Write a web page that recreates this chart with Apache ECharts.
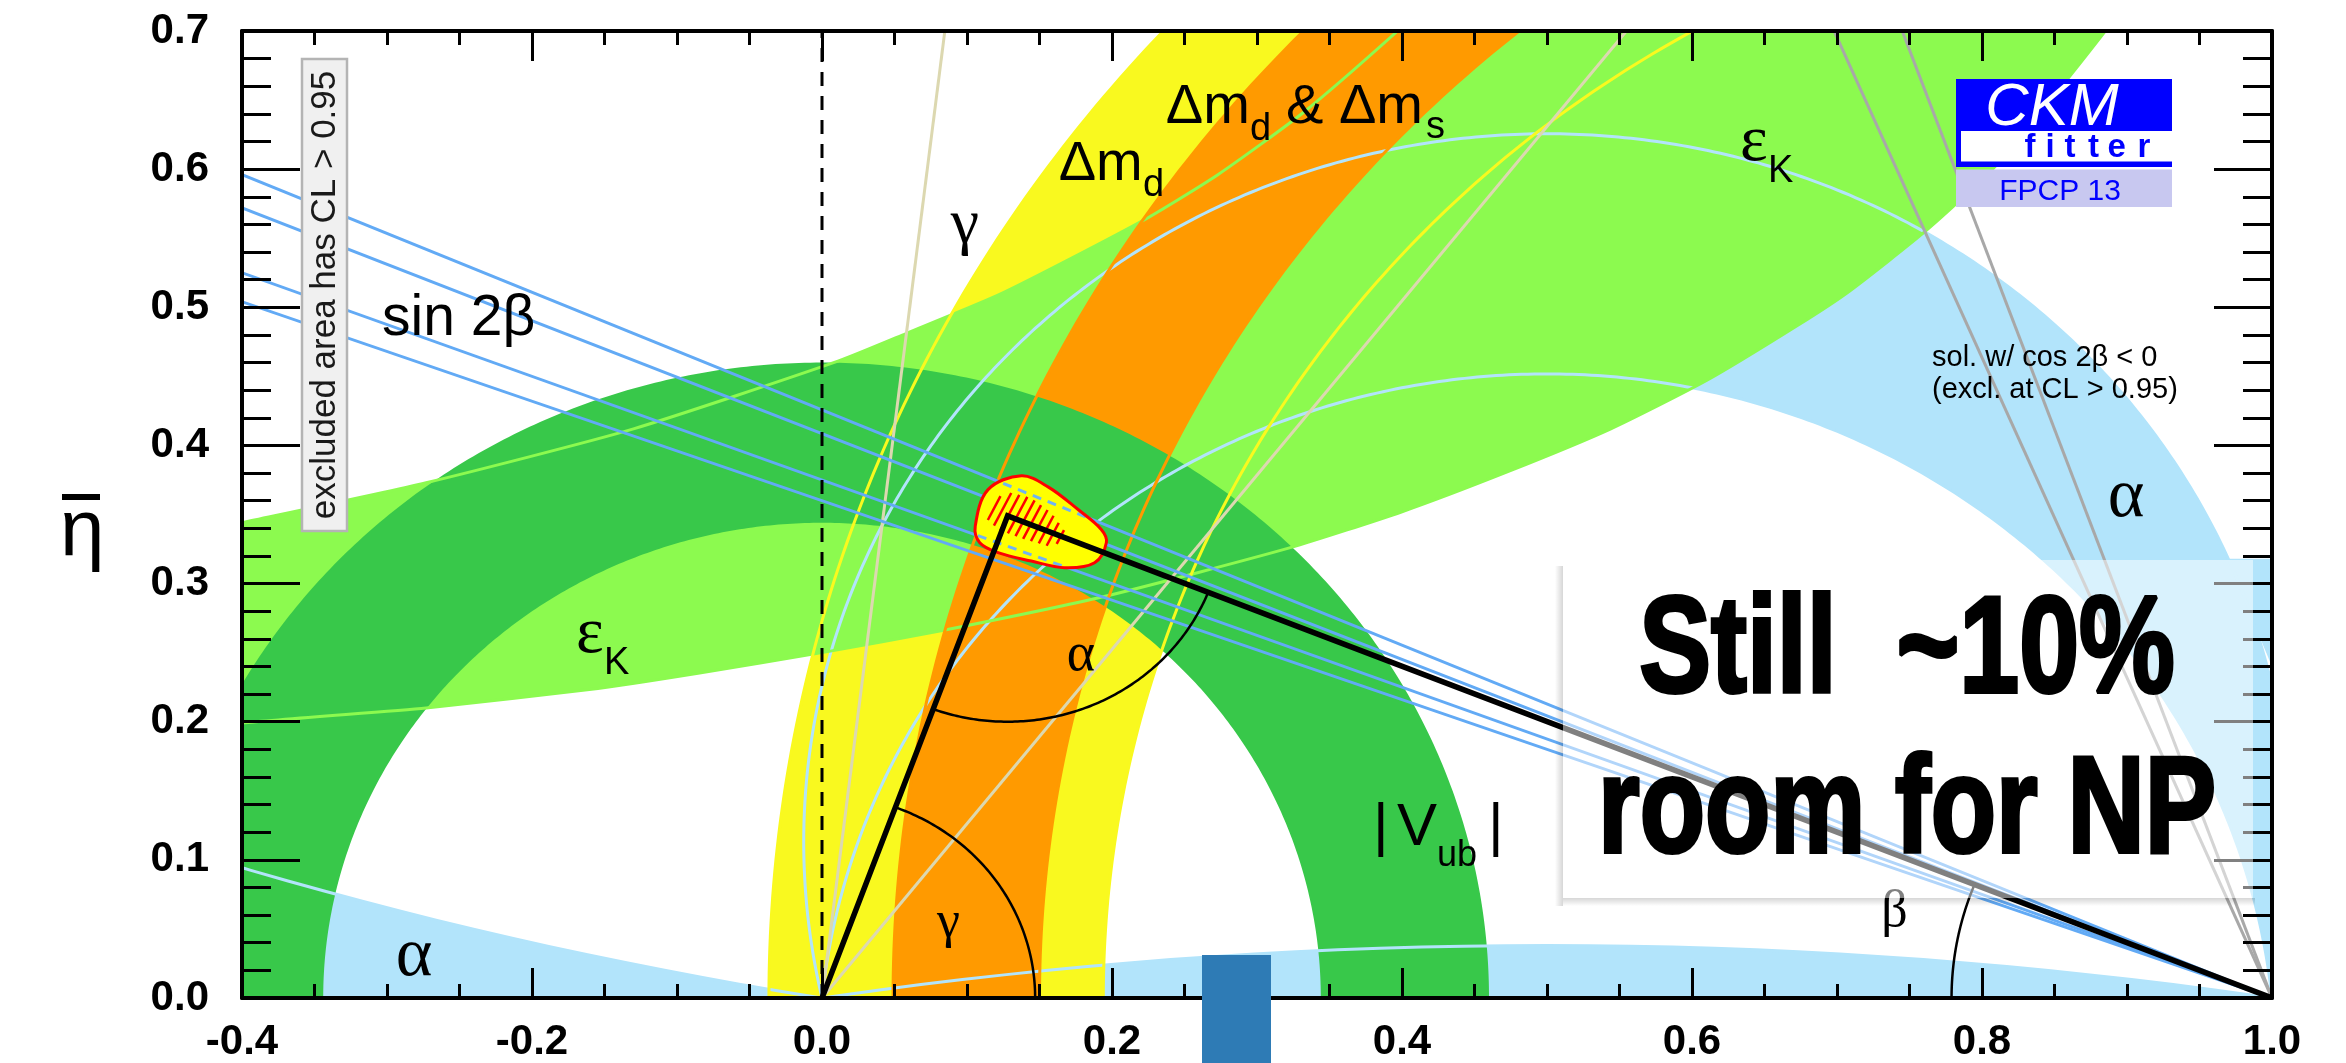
<!DOCTYPE html>
<html>
<head>
<meta charset="utf-8">
<title>CKMfitter – ρ̄, η̄ plane</title>
<script src="https://cdn.jsdelivr.net/npm/echarts@6/dist/echarts.min.js"></script>
<style>
  html, body { margin: 0; padding: 0; background: #ffffff; }
  #chart { width: 2346px; height: 1063px; }
</style>
</head>
<body>
<div id="chart"></div>
<script>
// ---------------- axis ticks ----------------
const rhoTicks = [-0.4, -0.2, 0.0, 0.2, 0.4, 0.6, 0.8, 1.0];
const etaTicks = [0.0, 0.1, 0.2, 0.3, 0.4, 0.5, 0.6, 0.7];

// ---------------- constraints (95% CL regions) ----------------
// |Vub|: annulus around (0,0), inner / outer radius
const vubRadii = [0.344, 0.46];
// Δm_d: annulus around (1,0)
const dmdCenter = [1.0, 0.0];
const dmdRadii = [0.806, 1.0366];
// Δm_d & Δm_s
const dmsCenter = [1.056, 0.0];
const dmsRadii = [0.906, 1.007];
// α: circles through (0,0) and (1,0); η̄ of their centres (ρ̄ = 0.5)
const alphaBandCy = [0.113, -0.0508];   // edges of the α ≈ 90° band
const alphaLowCy = [3.016, -3.27];      // edges of the α ≈ 0° / 180° slivers
// α region along the ρ̄ = 1 edge
const alphaEdge = [[0.969, 0.318], [1.0, 0.318], [1.0, 0.24]];
// ε_K band edges (ρ̄, η̄)
const epsKUpper = [[-0.45, 0.333], [-0.4, 0.344], [-0.273, 0.373], [-0.13, 0.412], [0.011, 0.461],
  [0.058, 0.481], [0.124, 0.51], [0.22, 0.562], [0.273, 0.596], [0.332, 0.641], [0.397, 0.70], [0.448, 0.75]];
const epsKLower = [[-0.45, 0.19], [-0.4, 0.199], [-0.273, 0.21], [-0.1545, 0.224], [-0.0855, 0.235],
  [0.0, 0.25], [0.083, 0.266], [0.196, 0.291], [0.323, 0.326], [0.40, 0.352], [0.473, 0.381],
  [0.544, 0.412], [0.61, 0.447], [0.673, 0.487], [0.709, 0.512], [0.762, 0.556], [0.811, 0.604],
  [0.885, 0.70], [0.918, 0.75]];
// sin 2β: lines through (1,0); η̄ where they cross ρ̄ = -0.4
const sin2bAtLeft = [0.596, 0.572, 0.525, 0.504];
// γ: lines through (0,0), angle in degrees
const gammaDeg = [51.6, 83.1];
// cos 2β < 0 solution: lines through (1,0); ρ̄ where they reach η̄ = 0.7
const cos2bNegTop = [0.698, 0.745];
// global fit
const apex = [0.128, 0.349];
const fitOuter = [[0.1057, 0.3416], [0.1145, 0.368], [0.1375, 0.378], [0.1559, 0.370], [0.1766, 0.3536],
  [0.1926, 0.3392], [0.1961, 0.3296], [0.188, 0.3151], [0.1674, 0.3115], [0.1443, 0.3163],
  [0.1214, 0.3224], [0.1088, 0.3296]];
const fitInner = [[0.1133, 0.3536], [0.1191, 0.362], [0.1306, 0.3656], [0.1444, 0.362], [0.1582, 0.3512],
  [0.1674, 0.338], [0.1651, 0.3296], [0.1559, 0.3271], [0.1398, 0.332], [0.1237, 0.338], [0.1145, 0.3452]];
// radii of the angle markers at the apex (α), at (1,0) (β) and at (0,0) (γ)
const angleArcRadii = [0.149, 0.221, 0.147];

// ---------------- helpers ----------------
const SANS = "'Liberation Sans', Arial, Helvetica, sans-serif";
const SERIF = "'Liberation Serif', 'Times New Roman', serif";

function arc(cx, cy, r, a0, a1, n) {
  const pts = [];
  for (let i = 0; i <= n; i++) {
    const a = a0 + (a1 - a0) * i / n;
    pts.push([cx + r * Math.cos(a), cy + r * Math.sin(a)]);
  }
  return pts;
}
function circle(c, r) { return arc(c[0], c[1], r, 0, 2 * Math.PI, 720); }
function annulus(c, radii) {
  return arc(c[0], c[1], radii[1], 0, 2 * Math.PI, 720)
    .concat(arc(c[0], c[1], radii[0], 2 * Math.PI, 0, 720));
}
// upper arc of the circle through (0,0) and (1,0) whose centre is (0.5, cy)
function alphaArc(cy, reverse) {
  const r = Math.hypot(0.5, cy);
  let a0 = Math.atan2(-cy, -0.5);
  const a1 = Math.atan2(-cy, 0.5);
  if (a0 < a1) a0 += 2 * Math.PI;
  return reverse ? arc(0.5, cy, r, a1, a0, 500) : arc(0.5, cy, r, a0, a1, 500);
}
function alphaCircle(cy) { return circle([0.5, cy], Math.hypot(0.5, cy)); }

function insidePoly(p, poly) {
  let c = false;
  for (let i = 0, j = poly.length - 1; i < poly.length; j = i++) {
    const a = poly[i], b = poly[j];
    if (((a[1] > p[1]) !== (b[1] > p[1])) &&
        (p[0] < (b[0] - a[0]) * (p[1] - a[1]) / (b[1] - a[1]) + a[0])) c = !c;
  }
  return c;
}
// pieces of segment a-b that lie inside poly
function segsInside(a, b, poly) {
  const ts = [0, 1];
  const r = [b[0] - a[0], b[1] - a[1]];
  for (let i = 0; i < poly.length; i++) {
    const c = poly[i], d = poly[(i + 1) % poly.length];
    const s = [d[0] - c[0], d[1] - c[1]];
    const den = r[0] * s[1] - r[1] * s[0];
    if (Math.abs(den) < 1e-12) continue;
    const t = ((c[0] - a[0]) * s[1] - (c[1] - a[1]) * s[0]) / den;
    const u = ((c[0] - a[0]) * r[1] - (c[1] - a[1]) * r[0]) / den;
    if (t > 0 && t < 1 && u >= 0 && u <= 1) ts.push(t);
  }
  ts.sort((x, y) => x - y);
  const at = t => [a[0] + t * r[0], a[1] + t * r[1]];
  const out = [];
  for (let i = 0; i < ts.length - 1; i++) {
    if (ts[i + 1] - ts[i] < 1e-9) continue;
    if (insidePoly(at((ts[i] + ts[i + 1]) / 2), poly)) out.push([at(ts[i]), at(ts[i + 1])]);
  }
  return out;
}

function layer(z, draw) {
  return {
    type: 'custom', coordinateSystem: 'cartesian2d', xAxisIndex: 0, yAxisIndex: 0,
    data: [[0, 0]], clip: true, silent: true, z: z, animation: false,
    renderItem: function (params, api) {
      const px = pts => pts.map(p => api.coord(p));
      return { type: 'group', children: draw(px, api) };
    }
  };
}
const fillPoly = (pts, color) => ({ type: 'polygon', shape: { points: pts }, style: { fill: color, stroke: 'none' } });
const stroke = (pts, color, w, dash) => ({
  type: 'polyline', shape: { points: pts },
  style: { fill: 'none', stroke: color, lineWidth: w, lineDash: dash || null, lineJoin: 'round' }
});
const seg = (s, color, w, dash) => ({
  type: 'line', shape: { x1: s[0][0], y1: s[0][1], x2: s[1][0], y2: s[1][1] },
  style: { stroke: color, lineWidth: w, lineDash: dash || null }
});

const C_ALPHA = '#b2e4fb', C_DMD = '#f9f91f', C_EPS = '#8cfa4f', C_DMS = '#ff9a00', C_VUB = '#38c84a';
const C_GAMMA = '#dcd8b0', C_S2B = '#62aaf5', C_GREY = '#a8a8a8';

// ---------------- series ----------------
const series = [
  // α (light blue)
  layer(2, px => {
    const cC = alphaLowCy[0], rC = Math.hypot(0.5, cC);
    const a0 = Math.atan2(-cC, -0.5);
    const left = arc(0.5, cC, rC, a0, a0 - 0.5, 300);
    left.push([left[left.length - 1][0], 0]);
    return [
      fillPoly(px(alphaArc(alphaBandCy[0], false).concat(alphaArc(alphaBandCy[1], true))), C_ALPHA),
      fillPoly(px(alphaArc(alphaLowCy[1], false)), C_ALPHA),
      fillPoly(px(left), C_ALPHA),
      fillPoly(px(alphaEdge), C_ALPHA)
    ];
  }),
  // Δm_d (yellow)
  layer(3, px => [fillPoly(px(annulus(dmdCenter, dmdRadii)), C_DMD)]),
  // ε_K (light green)
  layer(4, px => [{ type: 'polygon', shape: { points: px(epsKUpper.concat(epsKLower.slice().reverse())), smooth: 0.2 },
    style: { fill: C_EPS, stroke: 'none' } }]),
  // Δm_d & Δm_s (orange)
  layer(5, px => [fillPoly(px(annulus(dmsCenter, dmsRadii)), C_DMS)]),
  // |Vub| (dark green)
  layer(6, px => [fillPoly(px(annulus([0, 0], vubRadii)), C_VUB)]),
  // contour lines of every constraint
  layer(7, (px, api) => {
    const k = [];
    alphaBandCy.concat(alphaLowCy).forEach(cy => k.push(stroke(px(alphaCircle(cy)), C_ALPHA, 3)));
    k.push({ type: 'polyline', shape: { points: px(epsKUpper), smooth: 0.2 }, style: { fill: 'none', stroke: C_EPS, lineWidth: 3 } });
    k.push({ type: 'polyline', shape: { points: px(epsKLower), smooth: 0.2 }, style: { fill: 'none', stroke: C_EPS, lineWidth: 3 } });
    dmdRadii.forEach(r => k.push(stroke(px(circle(dmdCenter, r)), C_DMD, 3)));
    dmsRadii.forEach(r => k.push(stroke(px(circle(dmsCenter, r)), C_DMS, 3)));
    gammaDeg.forEach(g => {
      const t = g * Math.PI / 180;
      k.push(stroke(px([[0, 0], [0.8 / Math.tan(t), 0.8]]), C_GAMMA, 3));
    });
    cos2bNegTop.forEach(x => {
      const s = 0.7 / (1 - x);
      k.push(stroke(px([[1, 0], [1 - 0.8 / s, 0.8]]), C_GREY, 3));
    });
    sin2bAtLeft.forEach(e => k.push(stroke(px([[-0.45, e * 1.45 / 1.4], [1, 0]]), C_S2B, 3)));
    k.push(stroke(px([[0, 0], [0, 0.7]]), '#000', 3, [14, 10]));
    return k;
  }),
  // global fit region
  layer(8, (px, api) => {
    const outer = px(fitOuter), inner = px(fitInner);
    const k = [{ type: 'polygon', shape: { points: outer, smooth: 0.35 }, style: { fill: '#ffff00', stroke: 'none' } }];
    const ang = 62 * Math.PI / 180, dx = Math.cos(ang), dy = -Math.sin(ang), nx = -dy, ny = dx;
    const cx = inner.reduce((s, p) => s + p[0], 0) / inner.length;
    const cy = inner.reduce((s, p) => s + p[1], 0) / inner.length;
    for (let i = -14; i <= 14; i++) {
      const ox = cx + nx * i * 8, oy = cy + ny * i * 8;
      segsInside([ox - dx * 150, oy - dy * 150], [ox + dx * 150, oy + dy * 150], inner)
        .forEach(s => k.push(seg(s, '#ff0000', 2.5)));
    }
    [0, 2].forEach(i => {
      segsInside(api.coord([-0.4, sin2bAtLeft[i]]), api.coord([1, 0]), outer)
        .forEach(s => k.push(seg(s, '#70b4f2', 3, [9, 7])));
    });
    k.push({ type: 'polygon', shape: { points: outer, smooth: 0.35 }, style: { fill: 'none', stroke: '#ff0000', lineWidth: 3 } });
    return k;
  }),
  // unitarity triangle and its angles
  layer(9, px => {
    const A = apex;
    const k = [stroke(px([[0, 0], A, [1, 0]]), '#000', 5.5)];
    k[0].style.lineJoin = 'miter';
    const aO = Math.atan2(-A[1], -A[0]), aB = Math.atan2(-A[1], 1 - A[0]);
    k.push(stroke(px(arc(A[0], A[1], angleArcRadii[0], aO, aB, 120)), '#000', 2.5));
    const b = Math.atan2(A[1], 1 - A[0]);
    k.push(stroke(px(arc(1, 0, angleArcRadii[1], Math.PI - b, Math.PI, 80)), '#000', 2.5));
    const g = Math.atan2(A[1], A[0]);
    k.push(stroke(px(arc(0, 0, angleArcRadii[2], 0, g, 80)), '#000', 2.5));
    return k;
  })
];

// ---------------- text and decorations ----------------
function lbl(x, base, text, size, o) {
  o = o || {};
  const font = (o.italic ? 'italic ' : '') + (o.bold ? 'bold ' : '') + size + 'px ' + (o.serif ? SERIF : SANS);
  const al = o.align || 'left';
  const style = { text: text, x: 0, y: 0, font: font, fill: o.color || '#000',
    textAlign: al, align: al, textVerticalAlign: 'middle', verticalAlign: 'middle' };
  if (o.weight) { style.stroke = o.color || '#000'; style.lineWidth = o.weight; }
  return { type: 'text', x: x, y: base - 0.31 * size, z: o.z || 20, scaleX: o.sx || 1, style: style };
}
function box(x, y, w, h, style, z) {
  return { type: 'rect', shape: { x: x, y: y, width: w, height: h }, style: style, z: z };
}
function fade(x, y, w, h, vertical, z) {
  return box(x, y, w, h, {
    fill: new echarts.graphic.LinearGradient(vertical ? 0 : 1, 0, 0, vertical ? 1 : 0, [
      { offset: 0, color: 'rgba(0,0,0,0.16)' }, { offset: 1, color: 'rgba(0,0,0,0)' }])
  }, z);
}

const graphics = [
  // constraint labels
  lbl(1058.7, 182, 'Δm', 56), lbl(1143, 197, 'd', 38),
  lbl(1165.8, 125, 'Δm', 56), lbl(1250, 141, 'd', 38), lbl(1286, 125, '& Δm', 56), lbl(1426, 139, 's', 38),
  lbl(1740, 163, 'ε', 66, { serif: true }), lbl(1768, 183, 'K', 38),
  lbl(576, 655, 'ε', 66, { serif: true }), lbl(604, 675, 'K', 38),
  lbl(965, 245, 'γ', 64, { serif: true, align: 'center' }),
  lbl(382, 337, 'sin 2β', 57),
  lbl(1373, 847, '|', 60), lbl(1397, 847, 'V', 60), lbl(1437, 867, 'ub', 36), lbl(1488, 847, '|', 60),
  lbl(414, 978, 'α', 70, { serif: true, align: 'center' }),
  lbl(2126, 519, 'α', 70, { serif: true, align: 'center' }),
  lbl(1081, 673, 'α', 54, { serif: true, align: 'center' }),
  lbl(948.5, 939, 'γ', 52, { serif: true, align: 'center' }),
  lbl(1894.5, 928, 'β', 52, { serif: true, align: 'center' }),

  // CL note
  box(302, 59, 45, 472, { fill: '#f0f0f0', stroke: '#b4b4b4', lineWidth: 2.5 }, 30),
  { type: 'text', x: 325, y: 295, rotation: Math.PI / 2, z: 31,
    style: { text: 'excluded area has CL > 0.95', x: 0, y: 0, font: '35px ' + SANS, fill: '#1a1a1a',
      textAlign: 'center', align: 'center', textVerticalAlign: 'middle', verticalAlign: 'middle' } },

  // second solution note
  lbl(1932, 367, 'sol. w/ cos 2β < 0', 29, { z: 30 }),
  lbl(1932, 399, '(excl. at CL > 0.95)', 29, { z: 30 }),

  // logo
  box(1956, 79, 216, 88, { fill: '#0000ff' }, 40),
  box(1961, 131, 211, 30.5, { fill: '#ffffff' }, 41),
  box(1956, 169.5, 216, 37.5, { fill: '#c8c8f0' }, 40),
  lbl(2052, 127, 'CKM', 60, { italic: true, color: '#ffffff', align: 'center', z: 42 }),
  lbl(2030, 158, 'f', 33, { bold: true, color: '#0000ff', align: 'center', z: 42 }),
  lbl(2050, 158, 'i', 33, { bold: true, color: '#0000ff', align: 'center', z: 42 }),
  lbl(2070, 158, 't', 33, { bold: true, color: '#0000ff', align: 'center', z: 42 }),
  lbl(2093.5, 158, 't', 33, { bold: true, color: '#0000ff', align: 'center', z: 42 }),
  lbl(2116.7, 158, 'e', 33, { bold: true, color: '#0000ff', align: 'center', z: 42 }),
  lbl(2144, 158, 'r', 33, { bold: true, color: '#0000ff', align: 'center', z: 42 }),
  lbl(2060, 201.5, 'FPCP 13', 30, { color: '#0000ff', align: 'center', z: 42 }),

  // y-axis title η̄
  lbl(60, 558, 'η', 80, { z: 42 }),
  box(62, 494, 38, 6, { fill: '#000' }, 42),

  // message panel with a soft drop shadow on its lower and left edges
  fade(1563, 898, 692, 8, true, 49),
  fade(1555, 566, 8, 340, false, 49),
  box(1563, 560, 690, 338, { fill: 'rgba(255,255,255,0.5)' }, 50),
  lbl(1907, 697, 'Still  ~10%', 138, { bold: true, align: 'center', sx: 0.78, weight: 4, z: 51 }),
  lbl(1907, 857, 'room for NP', 138, { bold: true, align: 'center', sx: 0.775, weight: 4, z: 51 }),

  // slider marker on the lower edge
  box(1202, 955, 69, 108, { fill: '#2e7bb5' }, 60)
];

// ---------------- axes ----------------
const fmt = v => (Math.abs(v) < 1e-9 ? 0 : v).toFixed(1);
function axis(kind, pos, showLabel) {
  const isX = kind === 'x';
  const t = isX ? rhoTicks : etaTicks;
  return {
    type: 'value', position: pos, min: t[0], max: t[t.length - 1], interval: isX ? 0.2 : 0.1, z: 10,
    axisLine: { show: true, onZero: false, lineStyle: { color: '#000', width: 4 } },
    axisTick: { show: true, inside: true, length: isX ? 30 : 58, lineStyle: { color: '#000', width: 3 } },
    minorTick: { show: true, splitNumber: isX ? 4 : 5, length: isX ? 14 : 29, lineStyle: { color: '#000', width: 3 } },
    splitLine: { show: false }, minorSplitLine: { show: false },
    axisLabel: { show: showLabel, margin: isX ? 23 : 33, fontSize: 42, fontWeight: 'bold', fontFamily: SANS,
      color: '#000', formatter: fmt, showMinLabel: true, showMaxLabel: true }
  };
}

const chart = echarts.init(document.getElementById('chart'), null, { renderer: 'canvas' });
chart.setOption({
  animation: false,
  backgroundColor: '#ffffff',
  grid: { left: 242, right: 74, top: 31, bottom: 63, containLabel: false },
  xAxis: [axis('x', 'bottom', true), axis('x', 'top', false)],
  yAxis: [axis('y', 'left', true), axis('y', 'right', false)],
  series: series,
  graphic: { elements: graphics }
});
</script>
</body>
</html>
